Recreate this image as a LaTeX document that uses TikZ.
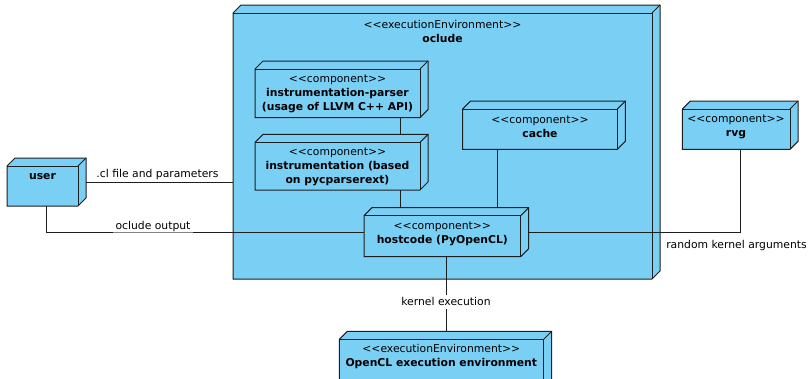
\documentclass[tikz,border=0pt]{standalone}
\usepackage{fontspec}
\setmainfont{DejaVu Sans}[Ligatures=TeXOff]
\definecolor{nodefill}{RGB}{122,207,245}
\definecolor{edgecol}{RGB}{30,30,30}
\tikzset{
  full/.style={inner sep=0pt, outer sep=0pt, anchor=north west},
  face/.style={draw=edgecol, fill=nodefill, line width=1pt, line join=miter},
  edge/.style={draw=edgecol, line width=1pt},
  conn/.style={draw=edgecol, line width=0.9pt},
  txt/.style={align=center, inner sep=0pt, font=\fontsize{10.8}{13.8}\selectfont},
  lbl/.style={inner sep=1.5pt, font=\fontsize{10.8}{13.8}\selectfont}
}
\newcommand\dbox[1]{%
  \draw[face] ([yshift=-8pt]#1.north west) -- ([xshift=8pt]#1.north west) -- (#1.north east) -- ([yshift=8pt]#1.south east) -- ([xshift=-8pt]#1.south east) -- (#1.south west) -- cycle;
  \draw[edge] ([yshift=-8pt]#1.north west) -- ([xshift=-8pt,yshift=-8pt]#1.north east) -- ([xshift=-8pt]#1.south east);
  \draw[edge] ([xshift=-8pt,yshift=-8pt]#1.north east) -- (#1.north east);
}
\begin{document}
\begin{tikzpicture}[x=1pt,y=-1pt]
\useasboundingbox (0,0) rectangle (812,378);
\clip (0,0) rectangle (812,378);
\fill[white] (0,0) rectangle (812,378);
% box frames (full extent incl. depth)
\node[full, minimum width=427pt, minimum height=274pt] (oclude) at (233,5) {};
\node[full, minimum width=79pt, minimum height=48pt] (user) at (7,158) {};
\node[full, minimum width=173pt, minimum height=56.7pt] (parser) at (255,61) {};
\node[full, minimum width=173pt, minimum height=55.7pt] (instr) at (255,134.3) {};
\node[full, minimum width=162.6pt, minimum height=48.3pt] (cache) at (462.7,101) {};
\node[full, minimum width=115.7pt, minimum height=48.3pt] (rvg) at (682.3,101) {};
\node[full, minimum width=164.7pt, minimum height=49pt] (host) at (364,207.7) {};
\node[full, minimum width=212.4pt, minimum height=59pt] (ocl) at (339.3,331.3) {};
\dbox{oclude}
\dbox{user}
\dbox{parser}
\dbox{instr}
\dbox{cache}
\dbox{rvg}
\dbox{host}
\dbox{ocl}
% texts
\node[txt] (tocl) at (442.5,31.7) {<<executionEnvironment>>\\\textbf{oclude}};
\node[txt] (tuser) at (42.5,176.7) {\textbf{user}};
\node[txt] (tparser) at (337.5,93.9) {<<component>>\\\textbf{instrumentation-parser}\\\textbf{(usage of LLVM C++ API)}};
\node[txt] (tinstr) at (337.5,167) {<<component>>\\\textbf{instrumentation (based}\\\textbf{on pycparserext)}};
\node[txt] (tcache) at (540,127) {<<component>>\\\textbf{cache}};
\node[txt] (trvg) at (736,127) {<<component>>\\\textbf{rvg}};
\node[txt] (thost) at (442.3,233.7) {<<component>>\\\textbf{hostcode (PyOpenCL)}};
\node[txt] (topencl) at (441.3,356.7) {<<executionEnvironment>>\\\textbf{OpenCL execution environment}};
% helper coordinates for connector x positions
\coordinate (xa) at (400,0);
\coordinate (xb) at (497.5,0);
% connectors
\draw[conn] (user.east) -- (oclude.west |- user.east);
\draw[conn] (user.south) -- (user.south |- host.west) -- (host.west);
\draw[conn] (parser.south -| xa) -- (instr.north -| xa);
\draw[conn] (instr.south -| xa) -- (host.north -| xa);
\draw[conn] (cache.south -| xb) -- (host.north -| xb);
\draw[conn] (rvg.south) -- (rvg.south |- host.east) -- (host.east);
\draw[conn] (host.south) -- (host.south |- ocl.north);
% labels
\node[lbl] (l1) at (157.5,175) {.cl file and parameters};
\node[lbl, fill=white, fill opacity=0.45, text opacity=1, inner sep=2.5pt] (l2) at (153,226.5) {oclude output};
\node[lbl] (l3) at (736.5,245.7) {random kernel arguments};
\node[lbl, fill=white, inner sep=3pt] (l4) at (446,301.7) {kernel execution};
\end{tikzpicture}
\end{document}
